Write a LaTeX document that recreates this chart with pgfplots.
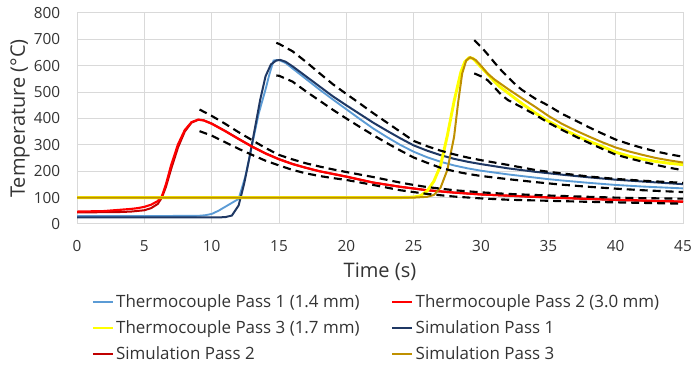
\documentclass[border=0pt]{standalone}
\usepackage{fontspec}
\setmainfont{Open Sans}
\usepackage{pgfplots}
\pgfplotsset{compat=1.18}
\definecolor{tcone}{HTML}{5B9BD5}
\definecolor{tcred}{HTML}{FF0000}
\definecolor{tcthree}{HTML}{FFFF00}
\definecolor{simone}{HTML}{1F3864}
\definecolor{simtwo}{HTML}{C00000}
\definecolor{simthree}{HTML}{BF9000}
\definecolor{gridc}{HTML}{D9D9D9}
\definecolor{txt}{HTML}{333333}
\begin{document}
\begin{tikzpicture}
\begin{axis}[
  scale only axis, width=454.5pt, height=158.25pt,
  xmin=0, xmax=45, ymin=0, ymax=800,
  xtick={0,5,...,45}, ytick={0,100,...,800},
  grid=major, major grid style={draw=gridc, line width=0.75pt},
  axis line style={draw=gridc, line width=0.75pt},
  tick style={draw=none},
  /pgf/number format/assume math mode=true,
  ticklabel style={font=\fontsize{11.5}{13}\selectfont, text=txt},
  xticklabel style={anchor=north, inner sep=0pt, yshift=-12pt},
  yticklabel style={anchor=east, inner sep=0pt, xshift=-12.5pt},
  xlabel={Time (s)}, ylabel={Temperature (°C)},
  xlabel style={at={(axis description cs:0.5,-0.2275)}, anchor=center, font=\fontsize{15}{18}\selectfont, text=txt},
  ylabel style={at={(axis description cs:-0.094,0.5)}, anchor=center, font=\fontsize{15}{18}\selectfont, text=txt},
  legend columns=2, legend cell align=left,
  legend image code/.code={\draw[#1, line width=1.1pt, solid] (0pt,0pt) -- (15pt,0pt);},
  legend style={at={(axis description cs:0.0248,-0.321)}, anchor=north west, draw=none, fill=none, inner sep=0pt, outer sep=0pt, font=\fontsize{12.7}{15}\selectfont, text=txt, row sep=4.5pt, /tikz/every even column/.append style={column sep=22pt}},
]
% legend (in the original order)
\addlegendimage{draw=tcone}
\addlegendentry{Thermocouple Pass 1 (1.4 mm)}
\addlegendimage{draw=tcred}
\addlegendentry{Thermocouple Pass 2 (3.0 mm)}
\addlegendimage{draw=tcthree}
\addlegendentry{Thermocouple Pass 3 (1.7 mm)}
\addlegendimage{draw=simone}
\addlegendentry{Simulation Pass 1}
\addlegendimage{draw=simtwo}
\addlegendentry{Simulation Pass 2}
\addlegendimage{draw=simthree}
\addlegendentry{Simulation Pass 3}
% Thermocouple Pass 1
\addplot[forget plot, draw=tcone, line width=1.4pt] coordinates {(0,30) (5,30) (9,31) (9.5,33) (10,38) (10.5,50) (11,65) (11.5,80) (12,95) (12.5,180) (13,300) (13.5,420) (14,510) (14.3,570) (14.6,620) (15,622) (15.5,610) (16,590) (17,550) (18,510) (19,472) (20,435) (21,398) (22,362) (23,330) (24,300) (25,274) (26,253) (27,236) (28,222) (29,211) (30,202) (32,188) (34,176) (35,170) (36,165) (38,156) (40,148) (42,142) (45,135)};
% Simulation Pass 1
\addplot[forget plot, draw=simone, line width=1.5pt] coordinates {(0,25) (10.5,25) (11,26) (11.5,32) (12,70) (12.4,150) (12.8,250) (13.2,360) (13.6,470) (14,560) (14.4,605) (14.8,620) (15.1,622) (15.5,615) (16,598) (17,560) (18,522) (19,484) (20,450) (21,417) (22,384) (23,354) (24,325) (25,298) (26,278) (27,261) (28,247) (29,236) (30,227) (32,211) (34,198) (36,187) (38,177) (40,168) (42,161) (45,151)};
% Simulation Pass 2
\addplot[forget plot, draw=simtwo, line width=1.5pt] coordinates {(0,44) (3,45) (4,47) (5,52) (5.5,60) (6,76) (6.3,100) (6.6,140) (7,210) (7.5,290) (8,350) (8.5,384) (9,395) (9.4,393) (10,381) (11,353) (12,323) (13,294) (14,268) (15,246) (16,228) (17,213) (18,200) (20,179) (22,157) (24,141) (26,128) (28,119) (30,112) (35,100) (40,91) (45,84)};
% Thermocouple Pass 2
\addplot[forget plot, draw=tcred, line width=1.6pt] coordinates {(0,47) (2,49) (3,53) (4,57) (4.5,60) (5,65) (5.5,73) (6,87) (6.3,105) (6.6,150) (7,225) (7.5,302) (8,356) (8.5,386) (9,396) (9.4,393) (10,380) (11,352) (12,322) (13,293) (14,267) (15,245) (16,227) (17,213) (18,200) (20,180) (22,157) (24,141) (26,128) (28,119) (30,112) (35,101) (40,92) (45,85)};
% Thermocouple Pass 3
\addplot[forget plot, draw=tcthree, line width=2.2pt] coordinates {(0,100) (24,100) (25,102) (25.5,107) (26,125) (26.5,162) (27,222) (27.5,335) (28,465) (28.5,575) (28.8,615) (29.1,630) (29.4,628) (30,595) (30.5,568) (31,540) (31.4,520) (32,497) (33,458) (34,422) (35,390) (36,362) (37,337) (38,314) (39,294) (40,272) (41,257) (42,246) (43,237) (44,230) (45,225)};
% Simulation Pass 3
\addplot[forget plot, draw=simthree, line width=1.5pt] coordinates {(0,100) (25,100) (26,103) (26.5,110) (27,138) (27.5,205) (28,330) (28.3,460) (28.6,570) (28.9,620) (29.2,632) (29.6,622) (30,600) (30.5,570) (31,548) (31.5,530) (32,512) (33,478) (34,445) (35,410) (36,380) (37,355) (38,332) (39,310) (40,290) (41,275) (42,262) (43,250) (44,241) (45,233)};
% tolerance bands
\addplot[forget plot, black, line width=1.6pt, dash pattern=on 6pt off 3.75pt] coordinates {(14.8,687) (15,683) (16,655) (17,615) (18,572) (19,530) (20,493) (21,457) (22,420) (23,385) (24,350) (25,315) (26,295) (27,278) (28,264) (29,252) (30,242) (32,224) (34,205) (35,198) (36,192) (38,180) (40,171) (42,164) (45,156)};
\addplot[forget plot, black, line width=1.6pt, dash pattern=on 6pt off 3.75pt] coordinates {(14.8,563) (15,562) (16,540) (17,503) (18,468) (19,433) (20,400) (21,368) (22,337) (23,307) (24,279) (25,252) (26,232) (27,213) (28,200) (29,190) (30,182) (32,170) (34,159) (35,154) (36,149) (38,141) (40,134) (42,128) (45,121)};
\addplot[forget plot, black, line width=1.6pt, dash pattern=on 6pt off 3.75pt] coordinates {(9.1,434) (10,410) (11,380) (12,348) (13,318) (14,288) (15,262) (16,245) (17,230) (18,218) (19,207) (20,197) (22,178) (24,157) (25,148) (26,140) (28,128) (30,120) (32,114) (35,108) (38,103) (40,100) (42,98) (45,96)};
\addplot[forget plot, black, line width=1.6pt, dash pattern=on 6pt off 3.75pt] coordinates {(9.1,352) (10,335) (11,310) (12,285) (13,262) (14,240) (15,222) (16,205) (17,192) (18,182) (19,174) (20,167) (22,148) (24,128) (25,121) (26,114) (28,104) (30,97) (32,92) (35,88) (38,84) (40,82) (42,80) (45,77)};
\addplot[forget plot, black, line width=1.6pt, dash pattern=on 6pt off 3.75pt] coordinates {(29.5,697) (30,672) (30.5,643) (31,612) (31.5,583) (32,557) (32.5,532) (33,510) (34,476) (35,449) (36,418) (37,393) (38,367) (39,343) (40,320) (41,303) (42,288) (43,275) (44,264) (45,255)};
\addplot[forget plot, black, line width=1.6pt, dash pattern=on 6pt off 3.75pt] coordinates {(29.5,571) (30,560) (30.5,545) (31,518) (31.5,490) (32,470) (33,443) (34,415) (35,384) (36,357) (37,332) (38,308) (39,285) (40,263) (41,249) (42,236) (43,224) (44,213) (45,204)};
\coordinate (SW) at (rel axis cs:0,0);
\coordinate (NE) at (rel axis cs:1,1);
\end{axis}
\pgfresetboundingbox
\path[use as bounding box] ([shift={(-57.75pt,-106.5pt)}]SW) rectangle ([shift={(6pt,9.75pt)}]NE);
\end{tikzpicture}
\end{document}
